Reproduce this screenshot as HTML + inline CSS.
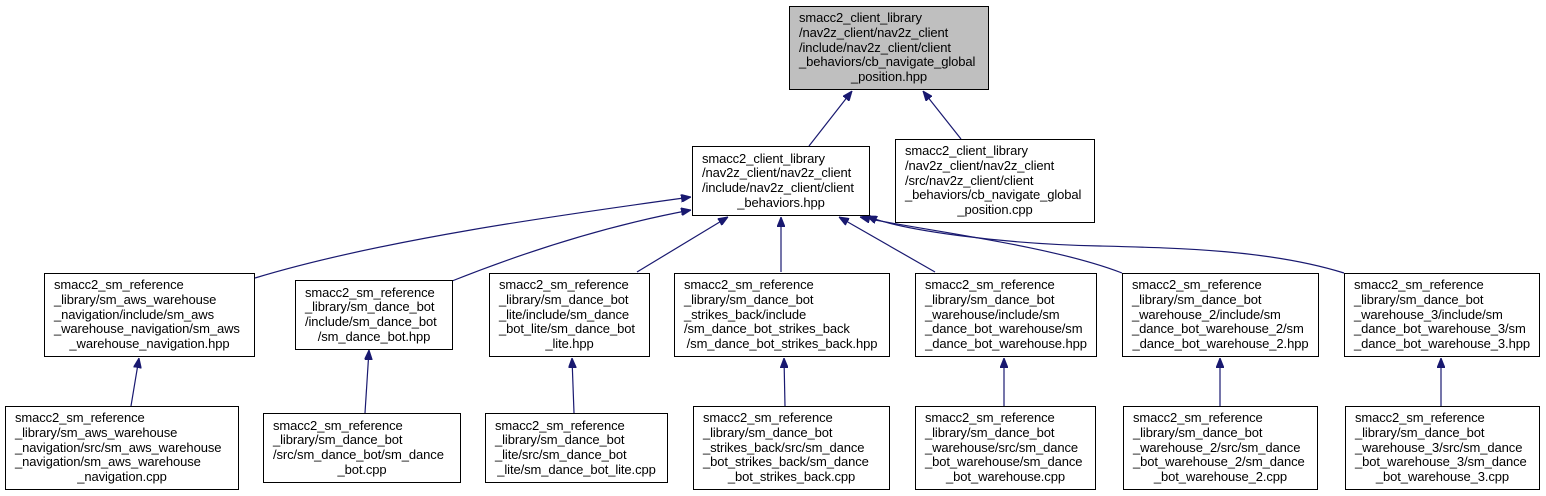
<!DOCTYPE html>
<html><head><meta charset="utf-8"><style>
body{margin:0;background:#fff;width:1546px;height:496px;position:relative;overflow:hidden;font-family:"Liberation Sans",sans-serif;}
.n{position:absolute;box-sizing:border-box;border:1px solid #000;background:#fff;font-size:13px;line-height:14.7px;color:#000;padding:0 0 0 9px;display:flex;flex-direction:column;justify-content:center;letter-spacing:-0.1px;}
.n div{white-space:nowrap;}
.n div:last-child{text-align:center;padding-right:9px;}
.g{background:#bfbfbf;}
svg{position:absolute;left:0;top:0;}
</style></head><body>
<svg width="1546" height="496">
<defs><marker id="a" markerWidth="10" markerHeight="8" refX="10" refY="4" orient="auto" markerUnits="userSpaceOnUse"><path d="M0,0 L10,4 L0,8 Z" fill="#191970" stroke="#191970"/></marker></defs>
<g fill="none" stroke="#191970" stroke-width="1.2" marker-end="url(#a)">
<path d="M809,146 L852,91"/>
<path d="M961,139 L923,91"/>
<path d="M255,278 C380,240 560,215 691,197"/>
<path d="M452,281 C530,250 610,225 691,210"/>
<path d="M637,272 L728,217"/>
<path d="M781,272 L781,217"/>
<path d="M935,272 L839,217"/>
<path d="M1122,273 C1050,245 920,230 860,217"/>
<path d="M1344,273 C1270,250 1180,248 1100,246 C1000,244 900,230 867,216"/>
<path d="M131,406 L139,358"/>
<path d="M365,413 L369,350"/>
<path d="M574,413 L572,358"/>
<path d="M785,406 L784,358"/>
<path d="M1004,406 L1004,358"/>
<path d="M1220,406 L1220,358"/>
<path d="M1441,406 L1441,358"/>
</g>
</svg>
<div class="n g" style="left:789px;top:6px;width:200px;height:84px"><div>smacc2_client_library</div><div>/nav2z_client/nav2z_client</div><div>/include/nav2z_client/client</div><div>_behaviors/cb_navigate_global</div><div>_position.hpp</div></div>
<div class="n" style="left:692px;top:146px;width:178px;height:70px"><div>smacc2_client_library</div><div>/nav2z_client/nav2z_client</div><div>/include/nav2z_client/client</div><div>_behaviors.hpp</div></div>
<div class="n" style="left:895px;top:139px;width:200px;height:84px"><div>smacc2_client_library</div><div>/nav2z_client/nav2z_client</div><div>/src/nav2z_client/client</div><div>_behaviors/cb_navigate_global</div><div>_position.cpp</div></div>

<div class="n" style="left:44px;top:273px;width:211px;height:84px"><div>smacc2_sm_reference</div><div>_library/sm_aws_warehouse</div><div>_navigation/include/sm_aws</div><div>_warehouse_navigation/sm_aws</div><div>_warehouse_navigation.hpp</div></div>
<div class="n" style="left:295px;top:280px;width:158px;height:70px"><div>smacc2_sm_reference</div><div>_library/sm_dance_bot</div><div>/include/sm_dance_bot</div><div>/sm_dance_bot.hpp</div></div>
<div class="n" style="left:489px;top:273px;width:161px;height:84px"><div>smacc2_sm_reference</div><div>_library/sm_dance_bot</div><div>_lite/include/sm_dance</div><div>_bot_lite/sm_dance_bot</div><div>_lite.hpp</div></div>
<div class="n" style="left:674px;top:273px;width:216px;height:84px"><div>smacc2_sm_reference</div><div>_library/sm_dance_bot</div><div>_strikes_back/include</div><div>/sm_dance_bot_strikes_back</div><div>/sm_dance_bot_strikes_back.hpp</div></div>
<div class="n" style="left:915px;top:273px;width:182px;height:84px"><div>smacc2_sm_reference</div><div>_library/sm_dance_bot</div><div>_warehouse/include/sm</div><div>_dance_bot_warehouse/sm</div><div>_dance_bot_warehouse.hpp</div></div>
<div class="n" style="left:1122px;top:273px;width:197px;height:84px"><div>smacc2_sm_reference</div><div>_library/sm_dance_bot</div><div>_warehouse_2/include/sm</div><div>_dance_bot_warehouse_2/sm</div><div>_dance_bot_warehouse_2.hpp</div></div>
<div class="n" style="left:1344px;top:273px;width:196px;height:84px"><div>smacc2_sm_reference</div><div>_library/sm_dance_bot</div><div>_warehouse_3/include/sm</div><div>_dance_bot_warehouse_3/sm</div><div>_dance_bot_warehouse_3.hpp</div></div>

<div class="n" style="left:5px;top:406px;width:234px;height:84px"><div>smacc2_sm_reference</div><div>_library/sm_aws_warehouse</div><div>_navigation/src/sm_aws_warehouse</div><div>_navigation/sm_aws_warehouse</div><div>_navigation.cpp</div></div>
<div class="n" style="left:263px;top:413px;width:198px;height:70px"><div>smacc2_sm_reference</div><div>_library/sm_dance_bot</div><div>/src/sm_dance_bot/sm_dance</div><div>_bot.cpp</div></div>
<div class="n" style="left:485px;top:413px;width:183px;height:70px"><div>smacc2_sm_reference</div><div>_library/sm_dance_bot</div><div>_lite/src/sm_dance_bot</div><div>_lite/sm_dance_bot_lite.cpp</div></div>
<div class="n" style="left:693px;top:406px;width:197px;height:84px"><div>smacc2_sm_reference</div><div>_library/sm_dance_bot</div><div>_strikes_back/src/sm_dance</div><div>_bot_strikes_back/sm_dance</div><div>_bot_strikes_back.cpp</div></div>
<div class="n" style="left:915px;top:406px;width:181px;height:84px"><div>smacc2_sm_reference</div><div>_library/sm_dance_bot</div><div>_warehouse/src/sm_dance</div><div>_bot_warehouse/sm_dance</div><div>_bot_warehouse.cpp</div></div>
<div class="n" style="left:1123px;top:406px;width:195px;height:84px"><div>smacc2_sm_reference</div><div>_library/sm_dance_bot</div><div>_warehouse_2/src/sm_dance</div><div>_bot_warehouse_2/sm_dance</div><div>_bot_warehouse_2.cpp</div></div>
<div class="n" style="left:1345px;top:406px;width:195px;height:84px"><div>smacc2_sm_reference</div><div>_library/sm_dance_bot</div><div>_warehouse_3/src/sm_dance</div><div>_bot_warehouse_3/sm_dance</div><div>_bot_warehouse_3.cpp</div></div>
</body></html>
